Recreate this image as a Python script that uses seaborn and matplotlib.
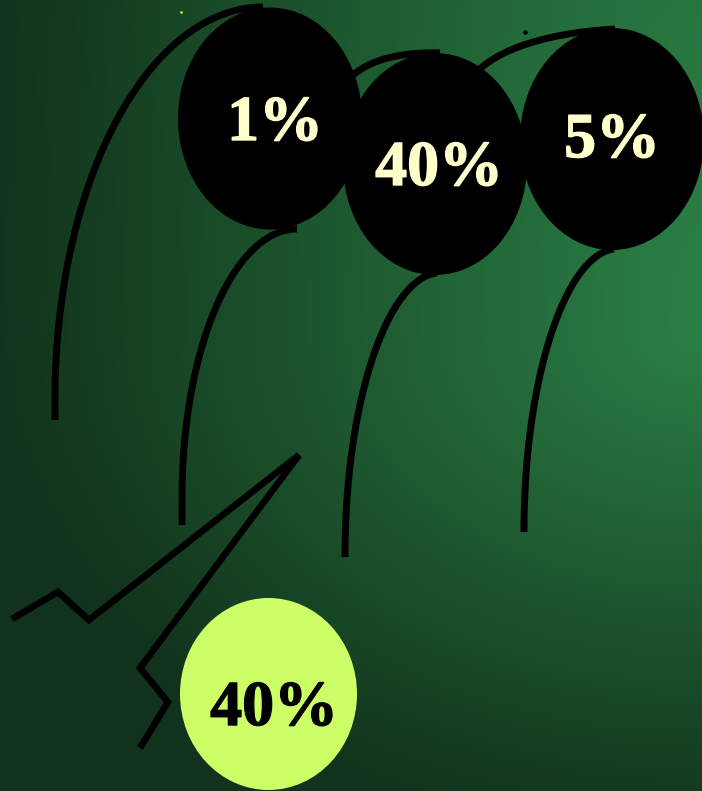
import numpy as np
import pandas as pd
import matplotlib
matplotlib.use("Agg")
import matplotlib.pyplot as plt
import matplotlib.patheffects as pe
import seaborn as sns
from matplotlib.patches import Ellipse

# ---- content ----
balloon_labels = ["1%", "40%", "5%"]
callout_label = "40%"

# ---- layout (pixel space, y down) ----
W, H = 702, 791
balloon_centers = [(270, 118.5), (435, 164), (612, 139)]
balloon_size = (184, 222)
text_pos = [(275, 140), (439, 185), (612, 157)]
callout_center = (268.5, 694)
callout_size = (177, 192)
callout_text_pos = (274, 725)

sns.set_theme(style="white")
plt.rcParams["font.family"] = ["Liberation Serif", "DejaVu Serif"]

fig = plt.figure(figsize=(W / 100, H / 100), dpi=100)
ax = fig.add_axes([0, 0, 1, 1])
ax.set_xlim(0, W)
ax.set_ylim(H, 0)
ax.axis("off")

# ---- background gradient ----
xx, yy = np.meshgrid(np.arange(W) + 0.5, np.arange(H) + 0.5)
dx = (xx - 705) / 720.0
dy = yy - 330
ry = np.where(dy < 0, 2200.0, 520.0)
f = np.clip(1 - np.sqrt(dx ** 2 + (dy / ry) ** 2), 0, 1)
dark = np.array([17, 50, 27]) / 255.0
light = np.array([43, 128, 70]) / 255.0
img = dark[None, None, :] + (light - dark)[None, None, :] * f[..., None]
ax.imshow(img, extent=[0, W, H, 0], zorder=0, aspect="auto", interpolation="bilinear")


def arc(cx, cy, rx, ry, t0, t1, n=120):
    t = np.linspace(t0, t1, n)
    return cx + rx * np.cos(t), cy - ry * np.sin(t)


def bez(p0, p1, p2, p3, n=120):
    t = np.linspace(0, 1, n)[:, None]
    p = ((1 - t) ** 3) * np.array(p0) + 3 * ((1 - t) ** 2) * t * np.array(p1) \
        + 3 * (1 - t) * t ** 2 * np.array(p2) + t ** 3 * np.array(p3)
    return p[:, 0], p[:, 1]


strings = []
x, y = arc(263, 399, 208, 392, np.pi, np.pi / 2)
strings.append((np.r_[55, x], np.r_[420, y]))
x, y = arc(297, 498, 115, 269, np.pi, np.pi / 2)
strings.append((np.r_[182, x], np.r_[525, y]))
strings.append(bez((345, 557), (345, 400), (388, 278), (437, 273)))
strings.append(bez((524, 532), (524, 380), (565, 255), (614, 249)))
strings.append(bez((350, 78), (370, 58), (405, 52), (440, 53)))
strings.append(bez((474, 75), (500, 45), (560, 32), (615, 29)))

for i, (sx, sy) in enumerate(strings):
    df = pd.DataFrame({"x": sx, "y": sy})
    sns.lineplot(data=df, x="x", y="y", sort=False, estimator=None, ax=ax,
                 color="black", linewidth=5.0, solid_capstyle="butt", zorder=2)

# lightning polyline
lx = [12, 58, 89, 299, 140, 168, 140]
ly = [619, 592, 620, 455, 668, 702, 748]
sns.lineplot(x=lx, y=ly, sort=False, estimator=None, ax=ax, color="black",
             linewidth=4.8, solid_capstyle="butt", solid_joinstyle="miter", zorder=2)

# balloons
for (cx, cy) in balloon_centers:
    ax.add_patch(Ellipse((cx, cy), balloon_size[0], balloon_size[1],
                         facecolor="black", edgecolor="none", zorder=3))
ax.add_patch(Ellipse(callout_center, callout_size[0], callout_size[1],
                     facecolor="#ccff66", edgecolor="none", zorder=3))

for lab, (tx, ty) in zip(balloon_labels, text_pos):
    ax.text(tx, ty, lab, ha="center", va="baseline", fontsize=46,
            fontweight="bold", color="#ffffcc", zorder=4,
            path_effects=[pe.withStroke(linewidth=1.0, foreground="#ffffcc")])
ax.text(callout_text_pos[0], callout_text_pos[1], callout_label, ha="center",
        va="baseline", fontsize=46, fontweight="bold", color="black", zorder=4,
        path_effects=[pe.withStroke(linewidth=1.0, foreground="black")])

# small specks
ax.plot([525], [32], marker="o", markersize=2.2, color="black", zorder=2)
ax.plot([181], [12], marker="s", markersize=0.8, color="#ccff33", zorder=2)

fig.savefig("out.png", dpi=100)
